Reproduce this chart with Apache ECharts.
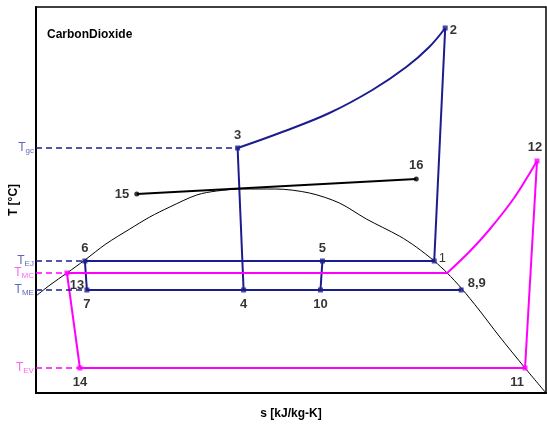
<!DOCTYPE html>
<html><head><meta charset="utf-8">
<script src="https://cdn.jsdelivr.net/npm/echarts@6/dist/echarts.min.js"></script>
<style>html,body{margin:0;padding:0;background:#fff}#c{width:547px;height:428px}</style>
</head><body><div id="c"></div>
<script>
// Units: arbitrary entropy (s) and temperature (T) (no numeric ticks in the original)
const pointNames = ['1','2','3','4','5','6','7','8,9','10','11','12','13','14','15','16'];
const pointS     = [399, 410, 202, 208, 287, 49, 51, 426, 285, 490, 502, 31, 44, 101, 381];
const pointT     = [132, 365, 245, 103, 132, 132, 103, 103, 103, 25, 232, 120, 25, 199, 214];
const pointGroup = ['b','b','b','b','b','b','b','b','b','p','p','p','p','k','k'];

// saturation dome
const domeS = [0, 14, 31, 49, 70, 94, 114, 134, 161, 181, 207, 240, 274, 304, 331, 364, 381, 399, 412, 426, 444, 464, 490, 511];
const domeT = [97, 108, 120, 133, 149, 164, 176, 186, 198, 202, 204, 204, 200, 190, 174, 157, 146, 132, 120, 105, 83, 57, 25, 0];

// gas-cooler compression curve 3 -> 2
const compS = [202, 244, 294, 337, 371, 394, 410];
const compT = [245, 260, 280, 303, 326, 346, 365];
// pink superheat curve junction -> 12
const pinkCurveS = [412, 434, 454, 479, 502];
const pinkCurveT = [120, 141, 163, 195, 232];

// reference temperature levels
const levelNames = ['gc', 'EJ', 'MC', 'ME', 'EV'];
const levelT     = [245, 132, 120, 103, 25];
const levelEndS  = [202, 49, 31, 51, 44];
const levelGroup = ['b','b','p','b','p'];

const BLUE = '#1c1c8f', PINK = '#ff00ff', BLACK = '#000';
const LBLUE = '#2f3fae', LPINK = '#ff3cf0';
const colorOf = g => g === 'b' ? BLUE : g === 'p' ? PINK : BLACK;

const P = n => { const i = pointNames.indexOf(n); return [pointS[i], pointT[i]]; };
const zip = (a, b) => a.map((v, i) => [v, b[i]]);

const labelPos = {
  '1': ['right', [-3, -3], 'normal'], '2': ['right', [-3, 2], 'bold'], '3': ['top', [0, 1], 'bold'],
  '4': ['bottom', [0, 0], 'bold'], '5': ['top', [0, 1], 'bold'], '6': ['top', [0, 1], 'bold'],
  '7': ['bottom', [0, 0], 'bold'], '8,9': ['right', [-1, -7], 'bold'], '10': ['bottom', [0, 0], 'bold'],
  '11': ['bottom', [-8, 0], 'bold'], '12': ['top', [-2, 0], 'bold'], '13': ['bottom', [10, -2], 'bold'],
  '14': ['bottom', [0, 0], 'bold'], '15': ['left', [0, 0], 'bold'], '16': ['top', [0, 0], 'bold']
};

const seg = (data, color, width, extra) => Object.assign({
  type: 'line', data, symbol: 'none', silent: true, animation: false,
  lineStyle: { color, width }, z: 3
}, extra || {});

const series = [];
series.push(seg(zip(domeS, domeT), BLACK, 1, { smooth: 0.3, z: 2 }));
// blue cycle
series.push(seg(zip(compS, compT), BLUE, 2, { smooth: 0.4 }));
series.push(seg([P('1'), P('2')], BLUE, 2));
series.push(seg([P('3'), P('4')], BLUE, 2));
series.push(seg([P('6'), P('1')], BLUE, 2));
series.push(seg([P('6'), P('7')], BLUE, 2));
series.push(seg([P('7'), P('8,9')], BLUE, 2));
series.push(seg([P('5'), P('10')], BLUE, 2));
// pink cycle
series.push(seg([P('13'), [pinkCurveS[0], pinkCurveT[0]]], PINK, 2));
series.push(seg(zip(pinkCurveS, pinkCurveT), PINK, 2, { smooth: 0.3 }));
series.push(seg([P('12'), P('11')], PINK, 2));
series.push(seg([P('11'), P('14')], PINK, 2));
series.push(seg([P('14'), P('13')], PINK, 2));
// black 15-16
series.push(seg([P('15'), P('16')], BLACK, 2));
// dashed levels
levelNames.forEach((n, i) => {
  series.push(seg([[0, levelT[i]], [levelEndS[i], levelT[i]]], colorOf(levelGroup[i]), 1.3,
    { lineStyle: { color: colorOf(levelGroup[i]), width: 1.3, type: [6, 4] } }));
});
// state points
series.push({
  type: 'scatter', animation: false, z: 5,
  data: pointNames.map((n, i) => ({
    value: [pointS[i], pointT[i]],
    symbol: pointGroup[i] === 'k' ? 'circle' : 'rect',
    symbolSize: 5,
    itemStyle: { color: colorOf(pointGroup[i]) },
    label: {
      show: true, formatter: n, position: labelPos[n][0], offset: labelPos[n][1],
      color: '#000', fontWeight: labelPos[n][2], fontSize: 13, fontFamily: 'Liberation Sans'
    }
  }))
});
// level labels on left
series.push({
  type: 'scatter', animation: false, z: 5, symbolSize: 0.1,
  data: levelNames.map((n, i) => ({
    value: [0, levelT[i]],
    label: {
      show: true, position: 'left', distance: 2, offset: [0, 0],
      formatter: '{t|T}{s|' + n + '}',
      rich: {
        t: { fontSize: 12, color: levelGroup[i] === 'b' ? LBLUE : LPINK, fontFamily: 'Liberation Sans' },
        s: { fontSize: 8, color: levelGroup[i] === 'b' ? LBLUE : LPINK, fontFamily: 'Liberation Sans', padding: [5, 0, 0, 0] }
      }
    }
  }))
});

const chart = echarts.init(document.getElementById('c'), null, { renderer: 'canvas' });
chart.setOption({
  animation: false,
  backgroundColor: '#fff',
  title: { text: 'CarbonDioxide', left: 42, top: 24,
    textStyle: { fontSize: 12, fontWeight: 'bold', color: '#000', fontFamily: 'Liberation Sans' } },
  grid: { left: 36, top: 7, right: 1, bottom: 35, show: true, borderColor: '#000', borderWidth: 1.5 },
  xAxis: { type: 'value', min: 0, max: 511, name: 's [kJ/kg-K]', nameLocation: 'middle', nameGap: 15,
    nameTextStyle: { fontSize: 12, fontWeight: 'bold', color: '#000', fontFamily: 'Liberation Sans' },
    axisLine: { show: true, lineStyle: { color: '#000', width: 2 } }, axisTick: { show: false },
    axisLabel: { show: false }, splitLine: { show: false } },
  yAxis: { type: 'value', min: 0, max: 386, name: 'T [°C]', nameLocation: 'middle', nameGap: 16,
    nameRotate: 90,
    nameTextStyle: { fontSize: 12, fontWeight: 'bold', color: '#000', fontFamily: 'Liberation Sans' },
    axisLine: { show: true, lineStyle: { color: '#000', width: 2 } }, axisTick: { show: false },
    axisLabel: { show: false }, splitLine: { show: false } },
  series
});
</script></body></html>
